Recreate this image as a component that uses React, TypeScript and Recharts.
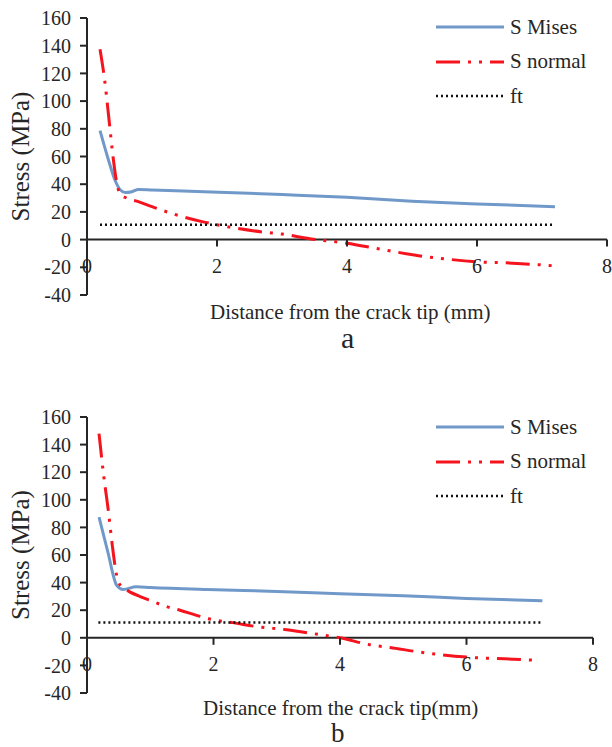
import { LineChart, Line, XAxis, YAxis, ReferenceLine, Legend } from "recharts";

const FONT = "'Liberation Serif', 'Times New Roman', serif";
const INK = "#262626";

const xTicks = [0, 2, 4, 6, 8];
const yTicks = [-40, -20, 0, 20, 40, 60, 80, 100, 120, 140, 160];
const seriesNames = ["S Mises", "S normal", "ft"];

// chart a
const misesAX = [0.2, 0.33, 0.43, 0.51, 0.59, 0.69, 0.79, 1.0, 1.8, 3.0, 4.0, 5.0, 6.0, 7.2];
const misesAY = [78.7, 57.5, 43, 36, 34, 34.6, 36.2, 35.8, 34.6, 32.5, 30.5, 27.7, 25.7, 23.8];
const normalAX = [0.2, 0.27, 0.34, 0.4, 0.45, 0.51, 0.61, 0.79, 1.0, 1.35, 1.77, 2.2, 2.7, 3.0, 3.45, 4.0, 4.5, 5.1, 5.6, 6.0, 6.55, 7.15];
const normalAY = [137.5, 115.7, 86, 60, 43, 33, 30, 27.4, 23.8, 18.2, 13, 9, 5.5, 4, 0.5, -2.6, -6.8, -11.6, -14.4, -16, -17, -18.8];
const ftAX = [0.2, 7.2];
const ftAY = [10.8, 10.8];

// chart b
const misesBX = [0.19, 0.33, 0.47, 0.57, 0.78, 1.0, 1.9, 3.0, 4.0, 5.0, 6.0, 7.2];
const misesBY = [87.5, 62, 38, 35, 37, 36.5, 35, 33.6, 32, 30.5, 28.5, 26.8];
const normalBX = [0.19, 0.26, 0.34, 0.4, 0.47, 0.52, 0.65, 0.86, 1.02, 1.23, 1.47, 1.79, 2.0, 2.3, 2.7, 3.16, 3.58, 4.0, 4.47, 4.79, 5.27, 6.0, 6.74, 7.13];
const normalBY = [148, 119, 91, 67, 45, 38.5, 34, 29.5, 26.7, 23, 20, 15.5, 13, 11, 8, 5.8, 3, 0, -5, -7, -10.4, -14, -15.5, -16.4];
const ftBX = [0.18, 7.19];
const ftBY = [11, 11];

const pts = (xs: number[], ys: number[]) => xs.map((x, i) => ({ x, y: ys[i] }));

// x axis crosses at y = 0, so ticks are drawn up from the bottom of the plot
const makeXTick = (zeroOffset: number) => (props: any) => {
  const { x, y, payload } = props;
  const y0 = y - zeroOffset;
  return (
    <g>
      <line x1={x} y1={y0} x2={x} y2={y0 + 7} stroke={INK} strokeWidth={2} />
      <text x={x} y={y0 + 26} textAnchor="middle" dominantBaseline="central" fontSize={20} fill={INK} fontFamily={FONT}>
        {payload.value}
      </text>
    </g>
  );
};

const renderLegend = (props: any) => (
  <div style={{ fontFamily: FONT, fontSize: 21, color: INK }}>
    {props.payload.map((e: any) => (
      <div key={e.value} style={{ display: "flex", alignItems: "center", height: 34.5 }}>
        <svg width={68} height={8}>
          <line
            x1={0}
            y1={4}
            x2={68}
            y2={4}
            stroke={e.color}
            strokeWidth={e.payload.strokeWidth}
            strokeDasharray={e.payload.strokeDasharray}
          />
        </svg>
        <span style={{ marginLeft: 6 }}>{e.value}</span>
      </div>
    ))}
  </div>
);

type PanelProps = {
  mises: { x: number; y: number }[];
  normal: { x: number; y: number }[];
  ft: { x: number; y: number }[];
  top: number;
  bottom: number;
  right: number;
};

const H = 330;
const X_AXIS_H = 30;

const Panel = ({ mises, normal, ft, top, bottom, right }: PanelProps) => {
  const plotH = H - top - bottom - X_AXIS_H;
  const zeroOffset = (plotH * (0 - yTicks[0])) / (yTicks[yTicks.length - 1] - yTicks[0]);
  return (
    <LineChart width={612} height={H} margin={{ top, right, left: 0, bottom }}>
      <XAxis
        type="number"
        dataKey="x"
        domain={[0, 8]}
        ticks={xTicks}
        height={X_AXIS_H}
        axisLine={false}
        tickLine={false}
        tickSize={0}
        tickMargin={0}
        tick={makeXTick(zeroOffset)}
        interval={0}
      />
      <YAxis
        type="number"
        domain={[-40, 160]}
        ticks={yTicks}
        width={87}
        interval={0}
        axisLine={{ stroke: INK, strokeWidth: 2 }}
        tickLine={{ stroke: INK, strokeWidth: 2 }}
        tickSize={7}
        tickMargin={9}
        tick={{ fontSize: 20, fill: INK, fontFamily: FONT }}
        label={{
          value: "Stress (MPa)",
          angle: -90,
          position: "insideLeft",
          offset: 20,
          style: { textAnchor: "middle", fontSize: 25, fill: INK, fontFamily: FONT },
        }}
      />
      <ReferenceLine y={0} stroke={INK} strokeWidth={2} />
      <Legend
        content={renderLegend}
        layout="horizontal"
        align="center"
        verticalAlign="middle"
        wrapperStyle={{ top: 10, left: 436, width: 170 }}
      />
      <Line
        data={mises}
        dataKey="y"
        name={seriesNames[0]}
        type="monotone"
        stroke="#7099c9"
        strokeWidth={3}
        dot={false}
        isAnimationActive={false}
      />
      <Line
        data={normal}
        dataKey="y"
        name={seriesNames[1]}
        type="monotone"
        stroke="#f5141e"
        strokeWidth={3}
        strokeDasharray="24 8 3 8 3 8"
        dot={false}
        isAnimationActive={false}
      />
      <Line
        data={ft}
        dataKey="y"
        name={seriesNames[2]}
        type="linear"
        stroke="#111"
        strokeWidth={2.5}
        strokeDasharray="2 3"
        dot={false}
        isAnimationActive={false}
      />
    </LineChart>
  );
};

const textStyle = (top: number, left: number, size: number): React.CSSProperties => ({
  position: "absolute",
  top,
  left,
  fontFamily: FONT,
  fontSize: size,
  color: INK,
  lineHeight: 1,
  whiteSpace: "nowrap",
});

export default function App() {
  return (
    <div style={{ position: "relative", width: 612, height: 747, background: "#fff", overflow: "hidden" }}>
      <style>{"body { margin: 0; }"}</style>
      <div style={{ position: "absolute", top: 0, left: 0 }}>
        <Panel mises={pts(misesAX, misesAY)} normal={pts(normalAX, normalAY)} ft={pts(ftAX, ftAY)} top={18} bottom={5} right={5} />
      </div>
      <div style={textStyle(302, 210, 21)}>Distance from the crack tip (mm)</div>
      <div style={textStyle(323, 341, 30)}>a</div>
      <div style={{ position: "absolute", top: 400, left: 0 }}>
        <Panel mises={pts(misesBX, misesBY)} normal={pts(normalBX, normalBY)} ft={pts(ftBX, ftBY)} top={17} bottom={7} right={19} />
      </div>
      <div style={textStyle(698, 203, 21)}>Distance from the crack tip(mm)</div>
      <div style={textStyle(720, 331, 27)}>b</div>
    </div>
  );
}
